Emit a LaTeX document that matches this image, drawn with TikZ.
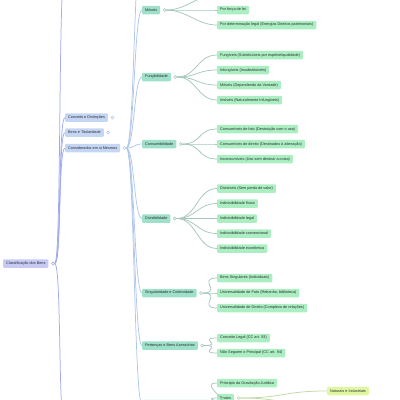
\documentclass[tikz,border=0pt]{standalone}
\usepackage{fontspec}
\setmainfont{Liberation Sans}
\usepackage{tikz}
\usetikzlibrary{positioning}
\definecolor{rootfill}{RGB}{199,202,244}
\definecolor{catfill}{RGB}{196,214,244}
\definecolor{subfill}{RGB}{158,224,202}
\definecolor{leaffill}{RGB}{170,238,194}
\definecolor{extrafill}{RGB}{224,247,162}
\definecolor{rootline}{RGB}{160,170,236}
\definecolor{catline}{RGB}{176,198,234}
\definecolor{leafline}{RGB}{166,200,188}
\definecolor{extraline}{RGB}{192,216,166}
\definecolor{txt}{RGB}{45,45,45}

\newcommand\twig[4]{\draw[link=#1] (#2) .. controls +(#4,0) and +(-#4,0) .. (#3);}

\begin{document}
\begin{tikzpicture}[x=1pt, y=-1pt,
  box/.style={rounded corners=1pt, anchor=west, inner xsep=3pt, inner ysep=0pt,
    minimum height=8.5pt, font=\fontsize{3.8}{4.2}\selectfont, text=txt},
  rootbox/.style={box, fill=rootfill},
  catbox/.style={box, fill=catfill},
  subbox/.style={box, fill=subfill},
  leafbox/.style={box, fill=leaffill},
  extrabox/.style={box, fill=extrafill},
  knob/.style={circle, draw=#1, fill=white, line width=0.5pt, inner sep=0pt, minimum size=3pt},
  link/.style={draw=#1, line width=0.75pt}]
  \useasboundingbox (0,0) rectangle (400,400);
  \clip (0,0) rectangle (400,400);

  % Root
  \node[rootbox] (root) at (3,263.5) {Classificação dos Bens};
  \node[knob=rootline, right=2.5pt of root] (rootk) {};

  % First level
  \node[catbox] (conceito) at (65,117.5) {Conceito e Distinções};
  \node[knob=catline, right=2.5pt of conceito] (conceitok) {};
  \node[catbox] (titular) at (65,132.5) {Bens e Titularidade};
  \node[knob=catline, right=2.5pt of titular] (titulark) {};
  \node[catbox] (siMesmos) at (65,148) {Considerados em si Mesmos};
  \node[knob=catline, right=2.5pt of siMesmos] (siMesmosk) {};
  \coordinate (catUp) at (65,-30);
  \coordinate (catDown) at (65,430);

  % Second level
  \node[subbox] (moveis) at (142,10) {Móveis};
  \node[knob=leafline, right=2.5pt of moveis] (moveisk) {};
  \node[subbox] (fungivel) at (142,77) {Fungibilidade};
  \node[knob=leafline, right=2.5pt of fungivel] (fungivelk) {};
  \node[subbox] (consumivel) at (142,144) {Consumibilidade};
  \node[knob=leafline, right=2.5pt of consumivel] (consumivelk) {};
  \node[subbox] (divisivel) at (142,218.5) {Divisibilidade};
  \node[knob=leafline, right=2.5pt of divisivel] (divisivelk) {};
  \node[subbox] (singular) at (142,293) {Singularidade e Coletividade};
  \node[knob=leafline, right=2.5pt of singular] (singulark) {};
  \node[subbox] (pertenca) at (142,345.5) {Pertenças e Bens Acessórios};
  \node[knob=leafline, right=2.5pt of pertenca] (pertencak) {};
  \node[subbox] (reciproco) at (142,404) {Bens Reciprocamente Considerados};
  \node[knob=leafline, right=2.5pt of reciproco] (reciprocok) {};
  \coordinate (imoveis) at (142,-60);

  % Third level
  \coordinate (movUp) at (217,-5);
  \node[leafbox] (forcaLei) at (217,10) {Por força de lei};
  \node[leafbox] (determina) at (217,25) {Por determinação legal (Energias Direitos patrimoniais)};

  \node[leafbox] (fungA) at (217,55) {Fungíveis (Substituíveis por espécie/qualidade)};
  \node[leafbox] (fungB) at (217,70) {Infungíveis (Insubstituíveis)};
  \node[leafbox] (fungC) at (217,85) {Móveis (Dependendo da Vontade)};
  \node[leafbox] (fungD) at (217,100) {Imóveis (Naturalmente Infungíveis)};

  \node[leafbox] (consA) at (217,129) {Consumíveis de fato (Destruição com o uso)};
  \node[leafbox] (consB) at (217,144) {Consumíveis de direito (Destinados à alienação)};
  \node[leafbox] (consC) at (217,159) {Inconsumíveis (Uso sem destruir a coisa)};

  \node[leafbox] (divA) at (217,188.5) {Divisíveis (Sem perda de valor)};
  \node[leafbox] (divB) at (217,203.5) {Indivisibilidade física};
  \node[leafbox] (divC) at (217,218.5) {Indivisibilidade legal};
  \node[leafbox] (divD) at (217,233.5) {Indivisibilidade convencional};
  \node[leafbox] (divE) at (217,248.5) {Indivisibilidade econômica};

  \node[leafbox] (singA) at (217,278) {Bens Singulares (Individuais)};
  \node[leafbox] (singB) at (217,293) {Universalidade de Fato (Rebanho, biblioteca)};
  \node[leafbox] (singC) at (217,308) {Universalidade de Direito (Complexo de relações)};

  \node[leafbox] (pertA) at (217,338) {Conceito Legal (CC art. 93)};
  \node[leafbox] (pertB) at (217,353) {Não Seguem o Principal (CC art. 94)};

  \node[leafbox] (recA) at (217,383) {Princípio da Gravitação Jurídica};
  \node[leafbox] (frutos) at (217,398) {Frutos};
  \node[knob=extraline, right=2.5pt of frutos] (frutosk) {};
  \coordinate (recC) at (217,413);
  \coordinate (recD) at (217,428);

  % Fourth level
  \node[extrabox] (naturais) at (327,391) {Naturais e Industriais};
  \coordinate (frutosDown) at (327,406);

  % Links
  \foreach \n in {conceito,titular,siMesmos}
    {\twig{rootline}{rootk.east}{\n.west}{7}}
  \twig{rootline}{rootk.east}{catUp}{7}
  \twig{rootline}{rootk.east}{catDown}{7}

  \foreach \n in {moveis,fungivel,consumivel,divisivel,singular,pertenca,reciproco}
    {\twig{catline}{siMesmosk.east}{\n.west}{8}}
  \twig{catline}{siMesmosk.east}{imoveis}{8}

  \twig{leafline}{moveisk.east}{movUp}{20}
  \foreach \n in {forcaLei,determina}
    {\twig{leafline}{moveisk.east}{\n.west}{20}}
  \foreach \n in {fungA,fungB,fungC,fungD}
    {\twig{leafline}{fungivelk.east}{\n.west}{20}}
  \foreach \n in {consA,consB,consC}
    {\twig{leafline}{consumivelk.east}{\n.west}{20}}
  \foreach \n in {divA,divB,divC,divD,divE}
    {\twig{leafline}{divisivelk.east}{\n.west}{20}}
  \foreach \n in {singA,singB,singC}
    {\twig{leafline}{singulark.east}{\n.west}{20}}
  \foreach \n in {pertA,pertB}
    {\twig{leafline}{pertencak.east}{\n.west}{20}}
  \foreach \n in {recA,frutos}
    {\twig{leafline}{reciprocok.east}{\n.west}{20}}
  \twig{leafline}{reciprocok.east}{recC}{20}
  \twig{leafline}{reciprocok.east}{recD}{20}

  \twig{extraline}{frutosk.east}{naturais.west}{45}
  \twig{extraline}{frutosk.east}{frutosDown}{45}
\end{tikzpicture}
\end{document}
